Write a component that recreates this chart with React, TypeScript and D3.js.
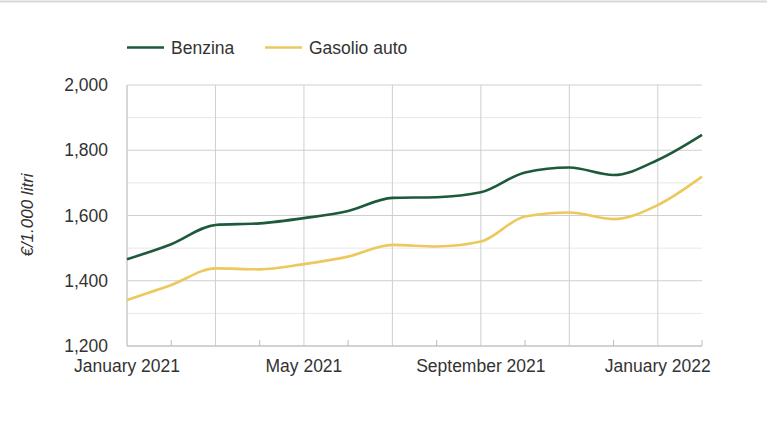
import React from "react";
import * as d3 from "d3";

const months = [
  "2021-01", "2021-02", "2021-03", "2021-04", "2021-05", "2021-06", "2021-07",
  "2021-08", "2021-09", "2021-10", "2021-11", "2021-12", "2022-01", "2022-02",
];
const benzina = [1466, 1512, 1571, 1576, 1592, 1614, 1654, 1656, 1671, 1732, 1747, 1724, 1770, 1847];
const gasolio = [1341, 1387, 1438, 1435, 1451, 1474, 1510, 1505, 1520, 1597, 1609, 1589, 1632, 1719];
const yTicks = [1200, 1400, 1600, 1800, 2000];
const yMinor = [1300, 1500, 1700, 1900];
const xLabels = ["January 2021", "May 2021", "September 2021", "January 2022"];
const xLabelIdx = [0, 4, 8, 12];
const seriesNames = ["Benzina", "Gasolio auto"];
const colors = ["#1d5a3b", "#ecc95c"];

export default function App() {
  const W = 767, H = 421;
  const left = 127, right = 702, top = 85, bottom = 346;
  const parse = d3.timeParse("%Y-%m");
  const dates = months.map((m) => parse(m) as Date);
  const x = d3.scaleLinear().domain([0, months.length - 1]).range([left, right]);
  const y = d3.scaleLinear().domain([1200, 2000]).range([bottom, top]);
  const line = d3
    .line<number>()
    .x((_, i) => x(i))
    .y((d) => y(d))
    .curve(d3.curveMonotoneX);
  const font = "'Liberation Sans', Arial, sans-serif";
  const textColor = "#333";
  const fs = 17.5;
  const series = [benzina, gasolio];
  const majorIdx = dates.map((_, i) => i).filter((i) => i % 2 === 0);
  const minorIdx = dates.map((_, i) => i).filter((i) => i % 2 === 1);

  return (
    <svg width={W} height={H} style={{ position: "absolute", left: 0, top: 0, background: "#fff" }} fontFamily={font}>
      <line x1={0} x2={W} y1={1.5} y2={1.5} stroke="#d8d8d8" strokeWidth={2} />
      {yMinor.map((v) => (
        <line key={"m" + v} x1={left} x2={right} y1={y(v)} y2={y(v)} stroke="#e8e8e8" strokeWidth={1} />
      ))}
      {yTicks.map((v) => (
        <line key={"g" + v} x1={left} x2={right} y1={y(v)} y2={y(v)} stroke="#cfcfcf" strokeWidth={1} />
      ))}
      {majorIdx.map((i) => (
        <line key={"v" + i} x1={x(i)} x2={x(i)} y1={top} y2={bottom} stroke="#cfcfcf" strokeWidth={1} />
      ))}
      {minorIdx.map((i) => (
        <line key={"t" + i} x1={x(i)} x2={x(i)} y1={bottom - 6} y2={bottom} stroke="#bdbdbd" strokeWidth={1} />
      ))}
      <line x1={left} x2={right} y1={bottom} y2={bottom} stroke="#bdbdbd" strokeWidth={1.2} />
      <line x1={left} x2={left} y1={top} y2={bottom} stroke="#c8c8c8" strokeWidth={1} />
      {yTicks.map((v) => (
        <text key={"yl" + v} x={108} y={y(v)} dy="0.35em" textAnchor="end" fontSize={fs} fill={textColor}>
          {d3.format(",")(v)}
        </text>
      ))}
      {xLabelIdx.map((idx, k) => (
        <text key={"xl" + k} x={x(idx)} y={372} textAnchor="middle" fontSize={fs} fill={textColor}>
          {xLabels[k]}
        </text>
      ))}
      <text
        transform={`translate(33,215) rotate(-90)`}
        textAnchor="middle"
        fontSize={17}
        fontStyle="italic"
        fill={textColor}
      >
        €/1.000 litri
      </text>
      {series.map((s, k) => (
        <path key={"s" + k} d={line(s) || ""} fill="none" stroke={colors[k]} strokeWidth={2.6} strokeLinejoin="round" />
      ))}
      {seriesNames.map((n, k) => {
        const lx = k === 0 ? 127 : 265;
        return (
          <g key={"lg" + k}>
            <line x1={lx} x2={lx + 37} y1={47.5} y2={47.5} stroke={colors[k]} strokeWidth={2.6} />
            <text x={lx + 44} y={53.5} fontSize={fs} fill={textColor}>
              {n}
            </text>
          </g>
        );
      })}
    </svg>
  );
}
